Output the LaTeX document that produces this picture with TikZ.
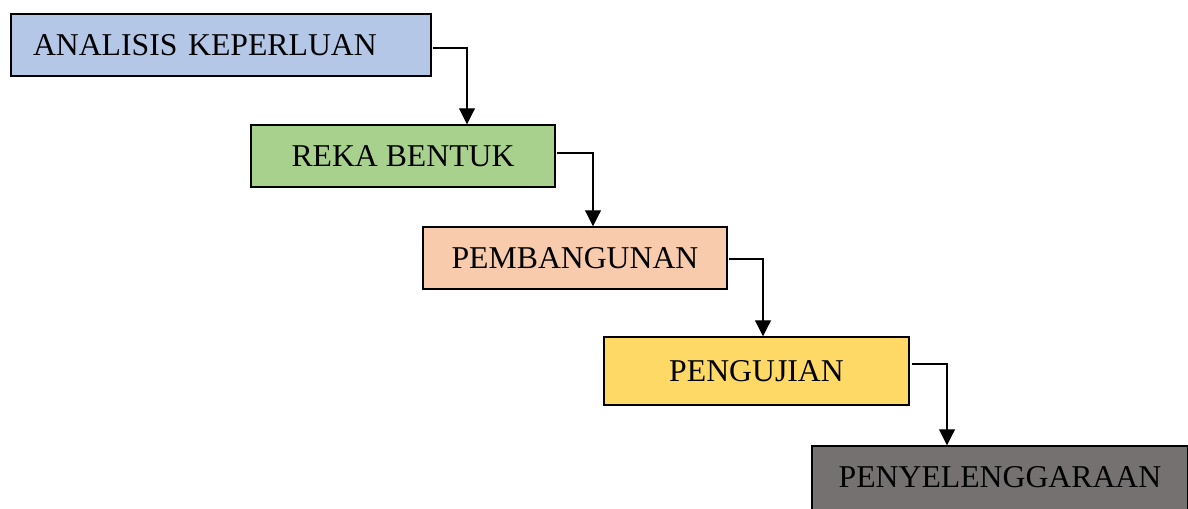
\documentclass[tikz,border=0pt]{standalone}
\usepackage{fontspec}
\setmainfont{Liberation Serif}
\usetikzlibrary{arrows.meta}
\definecolor{cblue}{HTML}{B4C7E7}
\definecolor{cgreen}{HTML}{A9D18E}
\definecolor{cpeach}{HTML}{F8CBAD}
\definecolor{cyellow}{HTML}{FFD966}
\definecolor{cgray}{HTML}{767171}
\tikzset{
  stage/.style={draw=black, line width=1.1pt, inner sep=0pt, font=\fontsize{23.8pt}{28pt}\selectfont, text=black},
  conn/.style={line width=0.8pt, -{Triangle[length=12pt,width=12pt]}},
}
\begin{document}
\begin{tikzpicture}[x=0.75pt,y=-0.75pt]
\useasboundingbox (0,0) rectangle (1188,508);
\clip (0,0) rectangle (1188,508);
\node[stage, fill=cblue, minimum width=315pt, minimum height=46.5pt, text width=282pt, inner xsep=16.5pt, align=left] (a) at (221,45) {ANALISIS KEPERLUAN};
\node[stage, fill=cgreen, minimum width=228pt, minimum height=46.5pt] (b) at (403,156) {REKA BENTUK};
\node[stage, fill=cpeach, minimum width=228pt, minimum height=46.5pt] (c) at (575,258) {PEMBANGUNAN};
\node[stage, fill=cyellow, minimum width=228.75pt, minimum height=51pt] (d) at (756.5,371) {PENGUJIAN};
\node[stage, fill=cgray, minimum width=282pt, minimum height=52.5pt, text depth=6.75pt] (e) at (1000,481) {PENYELENGGARAAN};
\coordinate (xab) at (467,0);
\coordinate (xbc) at (593,0);
\coordinate (xcd) at (763,0);
\coordinate (xde) at (947,0);
\draw[conn] ([xshift=1pt,yshift=-2.25pt]a.east) -| (xab |- b.north);
\draw[conn] ([xshift=1pt,yshift=2.25pt]b.east) -| (xbc |- c.north);
\draw[conn] ([xshift=1pt,yshift=-0.75pt]c.east) -| (xcd |- d.north);
\draw[conn] ([xshift=2pt,yshift=5.25pt]d.east) -| (xde |- e.north);
\end{tikzpicture}
\end{document}
